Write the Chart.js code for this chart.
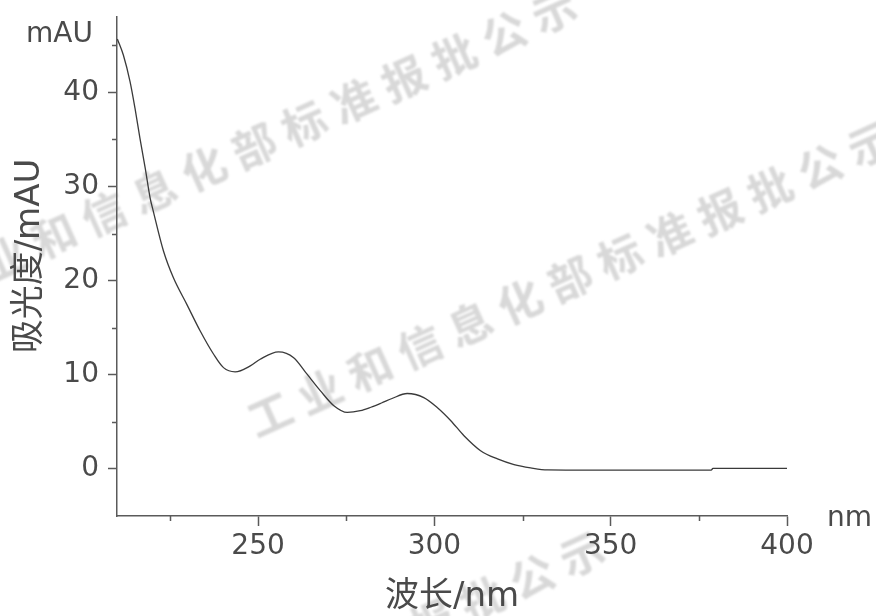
<!DOCTYPE html>
<html>
<head>
<meta charset="utf-8">
<script src="https://cdn.jsdelivr.net/npm/chart.js@4"></script>
<style>
  html, body { margin: 0; padding: 0; background: #fff; }
  #wrap { width: 876px; height: 616px; }
</style>
</head>
<body>
<div id="wrap"><canvas id="spectrum" width="876" height="616"></canvas></div>
<script>
// UV absorption spectrum
const wavelength = [210.1, 211.8, 213.7, 215.1, 216.5, 218.0, 219.4, 220.3, 223.2, 226.0,
                    229.8, 233.6, 237.4, 240.2, 243.5, 247.8, 250.6, 255.8, 260.1, 263.9,
                    267.7, 271.5, 275.3, 279.0, 282.0, 285.0, 288.0, 292.3, 297.0, 300.8,
                    304.6, 308.4, 313.1, 317.9, 322.6, 327.3, 332.1, 340.0, 360.0, 378.5,
                    379.0, 390.0, 400.0];
const absorbance = [45.66, 43.96, 41.13, 38.31, 35.13, 31.95, 28.77, 27.36, 23.12, 20.30,
                    17.48, 14.65, 12.18, 10.76, 10.31, 10.94, 11.65, 12.43, 11.82, 10.06,
                    8.29, 6.71, 6.00, 6.18, 6.55, 7.00, 7.48, 8.01, 7.58, 6.53,
                    5.15, 3.53, 1.94, 1.06, 0.46, 0.11, -0.11, -0.12, -0.12, -0.12,
                    0.05, 0.05, 0.05];

const xMajorTicks = [250, 300, 350, 400];
const xMinorTicks = [225, 275, 325, 375];
const yMajorTicks = [0, 10, 20, 30, 40];
const yMinorTicks = [5, 15, 25, 35, 45];

const xTitle = '波长/nm';
const yTitle = '吸光度/mAU';
const xUnit = 'nm';
const yUnit = 'mAU';
const watermarkText = '工业和信息化部标准报批公示';

const AXIS_COLOR = '#5a5a5a';
const TEXT_COLOR = '#4a4a4a';
const FAMILY = "'DejaVu Sans', 'Noto Sans CJK SC', sans-serif";

Chart.defaults.font.family = FAMILY;

const points = wavelength.map((w, i) => ({ x: w, y: absorbance[i] }));

// faint diagonal stamp text behind the plot
const watermarkPlugin = {
  id: 'watermark',
  beforeDraw(chart) {
    const ctx = chart.ctx;
    const starts = [[-46, 281], [270, 414], [-18, 824]];
    const step = [50, -22.5];
    const angle = Math.atan2(step[1], step[0]);
    ctx.save();
    ctx.font = "bold 44px 'Noto Sans CJK SC'";
    ctx.fillStyle = 'rgba(125,125,125,0.30)';
    ctx.filter = 'blur(1.1px)';
    ctx.textAlign = 'center';
    ctx.textBaseline = 'middle';
    const chars = Array.from(watermarkText);
    starts.forEach(([sx, sy]) => {
      chars.forEach((ch, i) => {
        ctx.save();
        ctx.translate(sx + i * step[0], sy + i * step[1]);
        ctx.rotate(angle);
        ctx.fillText(ch, 0, 0);
        ctx.restore();
      });
    });
    ctx.restore();
  }
};

// short minor tick marks plus unit labels and the vertical title
const axisExtrasPlugin = {
  id: 'axisExtras',
  afterDraw(chart) {
    const ctx = chart.ctx;
    const xs = chart.scales.x, ys = chart.scales.y;
    const area = chart.chartArea;
    ctx.save();
    ctx.strokeStyle = AXIS_COLOR;
    ctx.lineWidth = 1.5;
    ctx.beginPath();
    xMinorTicks.forEach(v => {
      const px = Math.round(xs.getPixelForValue(v)) + 0.5;
      ctx.moveTo(px, area.bottom);
      ctx.lineTo(px, area.bottom + 5);
    });
    yMinorTicks.forEach(v => {
      const py = Math.round(ys.getPixelForValue(v)) + 0.5;
      ctx.moveTo(area.left - 5, py);
      ctx.lineTo(area.left, py);
    });
    ctx.stroke();

    ctx.fillStyle = TEXT_COLOR;
    ctx.font = '28px ' + FAMILY;
    ctx.textBaseline = 'middle';
    ctx.textAlign = 'right';
    ctx.fillText(yUnit, area.left - 24, area.top + 18);
    ctx.textAlign = 'left';
    ctx.fillText(xUnit, area.right + 40, area.bottom + 3);

    ctx.font = '34px ' + FAMILY;
    ctx.textAlign = 'center';
    ctx.translate(30, 256);
    ctx.rotate(-Math.PI / 2);
    ctx.fillText(yTitle, 0, 0);
    ctx.restore();
  }
};

new Chart(document.getElementById('spectrum'), {
  type: 'line',
  data: {
    datasets: [{
      data: points,
      borderColor: '#3a3a3a',
      borderWidth: 1.3,
      pointRadius: 0,
      fill: false,
      cubicInterpolationMode: 'monotone'
    }]
  },
  options: {
    responsive: false,
    animation: false,
    devicePixelRatio: 1,
    layout: { padding: { top: 17, right: 89, left: 0, bottom: 0 } },
    plugins: { legend: { display: false }, tooltip: { enabled: false } },
    scales: {
      x: {
        type: 'linear',
        min: 210,
        max: 400,
        afterBuildTicks: s => { s.ticks = xMajorTicks.map(v => ({ value: v })); },
        afterFit: s => { s.height = 100; s.paddingLeft = 0; s.paddingRight = 0; },
        grid: { drawOnChartArea: false, drawTicks: true, tickLength: 10, tickColor: AXIS_COLOR, tickWidth: 1.5 },
        border: { display: true, color: AXIS_COLOR, width: 1.5 },
        ticks: { font: { size: 28 }, color: TEXT_COLOR, padding: 4, maxRotation: 0, autoSkip: false },
        title: {
          display: true,
          text: xTitle,
          color: TEXT_COLOR,
          font: { size: 34, lineHeight: 1.1 },
          padding: 0
        }
      },
      y: {
        type: 'linear',
        min: -5,
        max: 48,
        afterBuildTicks: s => { s.ticks = yMajorTicks.map(v => ({ value: v })); },
        afterFit: s => { s.width = 117; s.paddingTop = 0; s.paddingBottom = 0; },
        grid: { drawOnChartArea: false, drawTicks: true, tickLength: 9, tickColor: AXIS_COLOR, tickWidth: 1.5 },
        border: { display: true, color: AXIS_COLOR, width: 1.5 },
        ticks: { font: { size: 28 }, color: TEXT_COLOR, padding: 9, autoSkip: false }
      }
    }
  },
  plugins: [watermarkPlugin, axisExtrasPlugin]
});
</script>
</body>
</html>
